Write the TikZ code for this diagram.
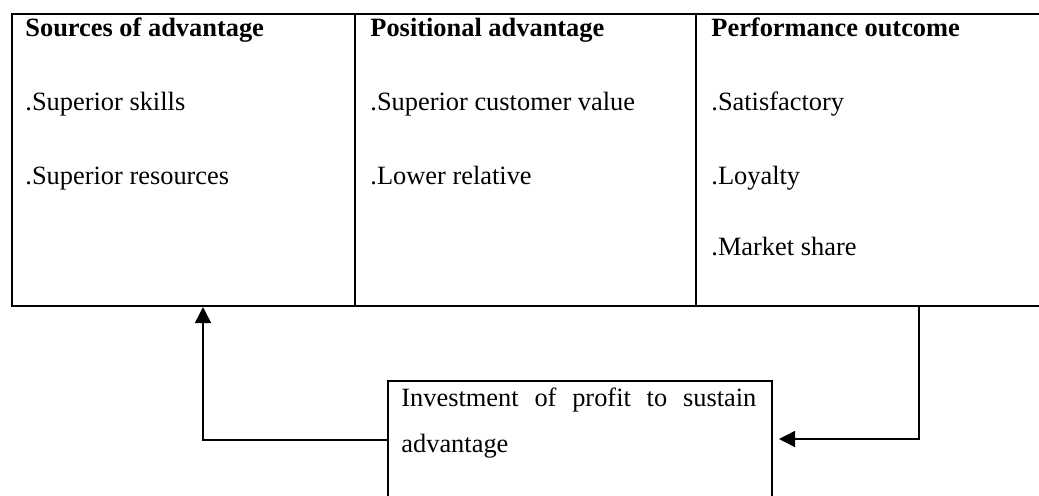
\documentclass[tikz,border=0pt]{standalone}
\usepackage{fontspec}
\setmainfont{Liberation Serif}
\usepackage{tikz}
\usetikzlibrary{arrows.meta}

\begin{document}
\begin{tikzpicture}[x=0.5pt,y=-0.5pt,
  cell/.style={draw,line width=1pt,anchor=north west,inner sep=0pt},
  txt/.style={anchor=base west,inner sep=0pt,font=\fontsize{13.2pt}{15pt}\selectfont},
  head/.style={txt,font=\fontsize{13.2pt}{15pt}\selectfont\bfseries},
  flow/.style={line width=0.75pt,-{Triangle[length=8pt,width=8pt]}}]
\useasboundingbox (0,0) rectangle (1039,495);
% the three columns
\node[cell,minimum width=171.5pt,minimum height=146pt] (src) at (11,13) {};
\node[cell,minimum width=170.5pt,minimum height=146pt] (pos) at (354,13) {};
\node[cell,minimum width=180pt,minimum height=146pt] (perf) at (695,13) {};
\node[head] (h1) at (25,36) {Sources of advantage};
\node[txt] (s1) at (25,110) {.Superior skills};
\node[txt] (s2) at (25,184) {.Superior resources};
\node[head] (h2) at (370,36) {Positional advantage};
\node[txt] (p1) at (370,110) {.Superior customer value};
\node[txt] (p2) at (370,184) {.Lower relative};
\node[head] (h3) at (711,36) {Performance outcome};
\node[txt] (o1) at (711,110) {.Satisfactory};
\node[txt] (o2) at (711,184) {.Loyalty};
\node[txt] (o3) at (711,255) {.Market share};
% feedback box
\node[cell,minimum width=192pt,minimum height=80pt] (invest) at (387,380) {};
\node[txt,anchor=north west,text width=177.5pt,align=justify,
  font=\fontsize{13.2pt}{23pt}\selectfont] (it) at (401,387)
  {Investment of profit to sustain\linebreak advantage};
\coordinate (l1) at (203,440);
\coordinate (r1) at (919,439);
\draw[flow] (invest.west |- l1) -| (src.south -| l1);
%\draw (perf.south) -- (invest.east);
\draw[flow] (perf.south -| r1) |- ([xshift=3pt]invest.east |- r1);
\end{tikzpicture}
\end{document}
